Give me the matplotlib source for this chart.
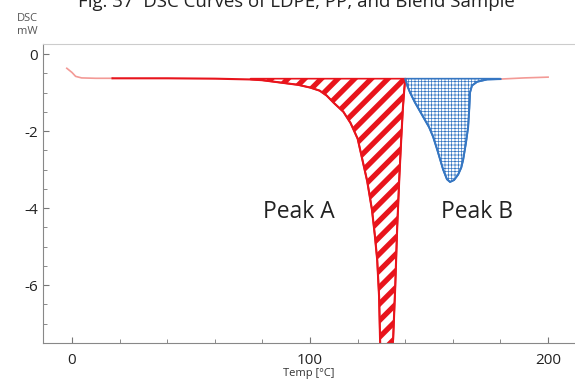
import matplotlib
matplotlib.use('Agg')
import matplotlib.pyplot as plt
from matplotlib.ticker import MultipleLocator, FuncFormatter

# 数据
# LDPE 部分 + Peak A
temp_a = [-2.2, 0, 1.5, 4, 10, 17, 40, 60, 75, 80, 85, 90, 95, 100, 104, 107, 110,
          114, 117, 120, 122, 124, 126, 127.2, 128.2, 129, 129.4, 130, 133, 134.9,
          135.8, 136.6, 137.5, 138.3, 139, 139.6, 140]
dsc_a = [-0.37, -0.48, -0.58, -0.62, -0.63, -0.63, -0.63, -0.64, -0.66, -0.68, -0.72,
         -0.76, -0.80, -0.87, -0.95, -1.08, -1.27, -1.5, -1.79, -2.2, -2.75, -3.3,
         -4.04, -4.7, -5.34, -6.3, -7.4, -8.5, -8.5, -7.4, -6.0, -4.5, -3.2, -2.2,
         -1.4, -0.9, -0.65]
# PP 部分 + Peak B
temp_b = [140, 141, 142, 144, 147.5, 150, 151.7, 153.5, 155.9, 157.5, 158.8, 160.5,
          162.2, 163.5, 164.3, 165.5, 166.4, 166.9, 167.2, 168, 170.2, 174.4, 180]
dsc_b = [-0.65, -0.85, -1.0, -1.25, -1.63, -1.9, -2.15, -2.5, -3.0, -3.25, -3.32, -3.27,
         -3.13, -2.95, -2.75, -2.3, -1.9, -1.4, -1.0, -0.82, -0.72, -0.66, -0.65]
# 末尾
temp_c = [180, 190, 200]
dsc_c = [-0.65, -0.62, -0.60]
baseline = -0.64

red = '#e8141c'
pink = '#f39a96'
blue = '#3576c2'

plt.rcParams['font.family'] = ['Open Sans', 'DejaVu Sans']
plt.rcParams['axes.unicode_minus'] = False

fig = plt.figure(figsize=(5.75, 3.8), dpi=100)
ax = fig.add_axes([43 / 575, 37 / 380, 1 - 43 / 575, 299 / 380])

# 颜色分段
i17 = temp_a.index(17)
ax.plot(temp_a[:i17 + 1], dsc_a[:i17 + 1], color=pink, lw=1.2)
ax.plot(temp_a[i17:], dsc_a[i17:], color=red, lw=1.5)
ax.plot(temp_c, dsc_c, color=pink, lw=1.2)

# Peak A 填充
i75 = temp_a.index(75)
plt.rcParams['hatch.linewidth'] = 3.8
plt.rcParams['hatch.color'] = red
fa = ax.fill_between(temp_a[i75:], dsc_a[i75:], baseline, facecolor='white',
                     edgecolor=red, hatch='//', lw=1.2)
if hasattr(fa, 'set_hatch_linewidth'):
    fa.set_hatch_linewidth(3.8)

# Peak B 填充
plt.rcParams['hatch.linewidth'] = 0.5
plt.rcParams['hatch.color'] = blue
fb = ax.fill_between(temp_b, dsc_b, baseline, facecolor='white',
                     edgecolor=blue, hatch='+++++', lw=1.2)
if hasattr(fb, 'set_hatch_linewidth'):
    fb.set_hatch_linewidth(0.5)
ax.plot(temp_b, dsc_b, color=blue, lw=1.4)

ax.set_xlim(-12.2, 211.3)
ax.set_ylim(-7.5, 0.26)

ax.xaxis.set_major_locator(MultipleLocator(100))
ax.xaxis.set_minor_locator(MultipleLocator(20))
ax.yaxis.set_major_locator(MultipleLocator(2))
ax.yaxis.set_minor_locator(MultipleLocator(0.5))
ax.yaxis.set_major_formatter(FuncFormatter(lambda v, p: '%d' % v))
ax.tick_params(which='both', direction='in', color='#777777', labelcolor='#222222',
               labelsize=11)
ax.tick_params(which='major', length=4)
ax.tick_params(which='minor', length=3)
ax.tick_params(axis='x', pad=7)

ax.spines['right'].set_visible(False)
ax.spines['top'].set_color('#cccccc')
ax.spines['left'].set_color('#888888')
ax.spines['bottom'].set_color('#888888')

ax.set_xlabel('Temp [°C]', fontsize=8, color='#333333', labelpad=0)
ax.text(95.4, -4.1, 'Peak A', fontsize=16.5, color='#222222', ha='center', va='center')
ax.text(170, -4.1, 'Peak B', fontsize=16.5, color='#222222', ha='center', va='center')

fig.text(27 / 575, 1 - 25 / 380, 'DSC\nmW', fontsize=8, color='#555555',
         ha='center', va='center', linespacing=1.3)
fig.text(296 / 575, 1 - 7 / 380, 'Fig. 37  DSC Curves of LDPE, PP, and Blend Sample',
         fontsize=13.4, color='#222222', ha='center', va='baseline')

fig.savefig('out.png', dpi=100)
